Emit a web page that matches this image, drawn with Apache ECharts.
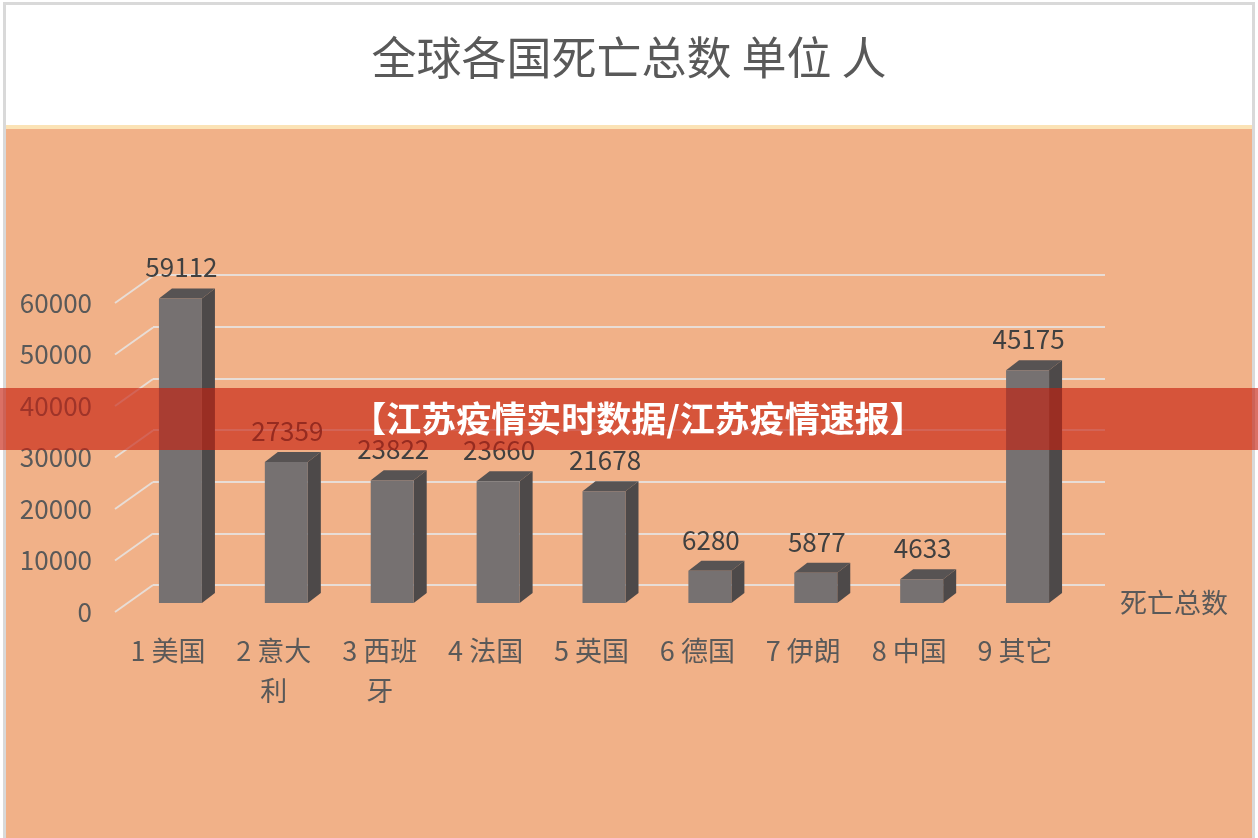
<!DOCTYPE html>
<html>
<head>
<meta charset="utf-8">
<title>全球各国死亡总数</title>
<script src="https://cdn.jsdelivr.net/npm/echarts@6/dist/echarts.min.js"></script>
<style>
  html, body { margin: 0; padding: 0; background: #fff; }
  #chart { width: 1258px; height: 838px; }
</style>
</head>
<body>
<div id="chart"></div>
<script>
// data
const categories = ['1 美国', '2 意大\n利', '3 西班\n牙', '4 法国', '5 英国', '6 德国', '7 伊朗', '8 中国', '9 其它'];
const deaths = [59112, 27359, 23822, 23660, 21678, 6280, 5877, 4633, 45175];
const yTicks = [0, 10000, 20000, 30000, 40000, 50000, 60000];
const seriesName = '死亡总数';

const font = '"Noto Sans CJK SC", "Noto Sans", sans-serif';
const chart = echarts.init(document.getElementById('chart'));

// 3D 柱子：正面 + 侧面 + 顶面
function renderBar(params, api) {
  const i = api.value(0);
  const v = api.value(1);
  const top = api.coord([i, v]);
  const base = api.coord([i, 0]);
  const w = api.size([1, 0])[0] * 0.406;
  const sx = 12.5, sy = -9, dx = 13, dy = -10;
  const x0 = top[0] - w / 2 + sx;
  const x1 = x0 + w;
  const yt = top[1] + sy;
  const yb = base[1] + sy;
  return {
    type: 'group',
    children: [
      {
        type: 'polygon',
        shape: {points: [[x1, yt], [x1 + dx, yt + dy], [x1 + dx, yb + dy], [x1, yb]]},
        style: {fill: '#4d4949'}
      },
      {
        type: 'polygon',
        shape: {points: [[x0, yt], [x0 + dx, yt + dy], [x1 + dx, yt + dy], [x1, yt]]},
        style: {fill: '#575353'}
      },
      {
        type: 'rect',
        shape: {x: x0, y: yt, width: w, height: yb - yt},
        style: {fill: '#767171'}
      },
      {
        type: 'text',
        style: {
          text: String(v),
          x: (x0 + x1) / 2 + 1,
          y: yt - 31,
          align: 'center',
          verticalAlign: 'middle',
          fill: '#404040',
          font: '26px ' + font
        }
      }
    ]
  };
}

// 左侧斜线（地板透视）
function renderDiag(params, api) {
  const p = api.coord([0, api.value(1)]);
  const x = params.coordSys.x;
  return {
    type: 'line',
    shape: {x1: x, y1: p[1], x2: x + 38, y2: p[1] - 27},
    style: {stroke: '#e8ddd6', lineWidth: 2}
  };
}

chart.setOption({
  backgroundColor: '#fff',
  animation: false,
  title: {
    text: '全球各国死亡总数 单位 人',
    left: 'center',
    top: 30,
    textStyle: {color: '#595959', fontSize: 45, fontWeight: 'normal', fontFamily: font}
  },
  legend: {
    data: [seriesName],
    left: 1110,
    top: 584,
    itemWidth: 0,
    itemHeight: 0,
    icon: 'rect',
    textStyle: {color: '#595959', fontSize: 27, fontFamily: font}
  },
  grid: [
    {left: 115, right: 190, top: 303, bottom: 226},
    {left: 153, right: 153, top: 275, bottom: 253}
  ],
  xAxis: [
    {
      type: 'category',
      gridIndex: 0,
      data: categories,
      axisLine: {show: false},
      axisTick: {show: false},
      axisLabel: {
        interval: 0,
        margin: 19,
        color: '#595959',
        fontSize: 27,
        lineHeight: 40,
        fontFamily: font
      }
    },
    {
      type: 'category',
      gridIndex: 1,
      data: categories,
      show: false
    }
  ],
  yAxis: [
    {
      type: 'value',
      gridIndex: 0,
      min: 0,
      max: 60000,
      interval: 10000,
      axisLine: {show: false},
      axisTick: {show: false},
      splitLine: {show: false},
      axisLabel: {
        margin: 23,
        color: '#595959',
        fontSize: 26,
        fontFamily: font,
        formatter: v => String(v)
      }
    },
    {
      type: 'value',
      gridIndex: 1,
      min: 0,
      max: 60000,
      interval: 10000,
      axisLine: {show: false},
      axisTick: {show: false},
      axisLabel: {show: false},
      splitLine: {lineStyle: {color: '#e8ddd6', width: 2}}
    }
  ],
  series: [
    {
      type: 'custom',
      name: 'grid-diag',
      xAxisIndex: 0,
      yAxisIndex: 0,
      renderItem: renderDiag,
      data: yTicks.map(v => [0, v]),
      silent: true,
      z: 1
    },
    {
      type: 'custom',
      name: seriesName,
      xAxisIndex: 0,
      yAxisIndex: 0,
      renderItem: renderBar,
      data: deaths.map((v, i) => [i, v]),
      itemStyle: {color: '#767171'},
      z: 3
    }
  ],
  graphic: [
    // 背景与边框
    {type: 'rect', z: -100, shape: {x: 5, y: 128, width: 1248, height: 710}, style: {fill: '#f1b188'}},
    {type: 'rect', z: -99, shape: {x: 5, y: 125, width: 1248, height: 4}, style: {fill: '#fbe3b6'}},
    {type: 'rect', z: -98, shape: {x: 3, y: 2, width: 3, height: 836}, style: {fill: '#d9d9d9'}},
    {type: 'rect', z: -98, shape: {x: 3, y: 2, width: 1252, height: 3}, style: {fill: '#d9d9d9'}},
    {type: 'rect', z: -98, shape: {x: 1252, y: 2, width: 3, height: 836}, style: {fill: '#d9d9d9'}},
    // 红色横幅
    {type: 'rect', z: 100, shape: {x: 0, y: 388, width: 1258, height: 62}, style: {fill: 'rgba(198, 32, 14, 0.64)'}},
    {
      type: 'text',
      z: 101,
      x: 638,
      y: 419,
      style: {
        text: '【江苏疫情实时数据/江苏疫情速报】',
        align: 'center',
        verticalAlign: 'middle',
        fill: '#fff',
        font: 'bold 35px ' + font
      }
    }
  ]
});
</script>
</body>
</html>
